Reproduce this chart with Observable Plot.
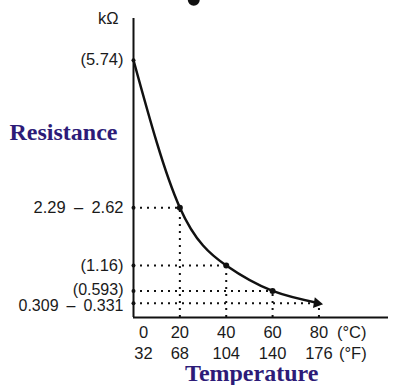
<!DOCTYPE html>
<html>
<head>
<meta charset="utf-8">
<script src="https://cdn.jsdelivr.net/npm/d3@7"></script>
<script src="https://cdn.jsdelivr.net/npm/@observablehq/plot@0.6"></script>
<style>
  html, body { margin: 0; padding: 0; background: #fff; }
  #chart svg { display: block; }
</style>
</head>
<body>
<div id="chart"></div>
<script>
// Data
const tempC = [0, 20, 40, 60, 80];
const tempF = ["32", "68", "104", "140", "176"];
const tempCLabels = ["0", "20", "40", "60", "80"];
const resistance = [5.74, 2.45, 1.16, 0.593, 0.32];
const resistanceLabels = ["(5.74)", "2.29\u2002\u2013\u20022.62", "(1.16)", "(0.593)", "0.309\u2002\u2013\u20020.331"];
const unitY = "kΩ";
const unitC = "(°C)";
const unitF = "(°F)";
const titleY = "Resistance";
const titleX = "Temperature";
// partially visible blob cropped at the top edge of the original picture
const topFragment = [{t: 26, r: 7.09}];

const pts = tempC.map((t, i) => ({t, r: resistance[i], label: resistanceLabels[i], c: tempCLabels[i], f: tempF[i]}));
const guided = pts.slice(1);

const purple = "#2d1b78";
const sans = "Liberation Sans, Arial, sans-serif";
const serif = "Liberation Serif, Times New Roman, serif";
const fs = 16.5;
const ink = "#1a1a1a";

const chart = Plot.plot({
  width: 393,
  height: 385,
  marginLeft: 133,
  marginRight: 5,
  marginTop: 18,
  marginBottom: 68,
  x: {domain: [0, 110], axis: null},
  y: {domain: [0, 6.67], axis: null},
  style: {fontFamily: sans, background: "#fff"},
  marks: [
    // dotted guides
    Plot.ruleY(guided, {y: "r", x1: 0, x2: "t", stroke: "#111", strokeWidth: 2, strokeDasharray: "2 5"}),
    Plot.ruleX(guided, {x: "t", y1: 0, y2: "r", stroke: "#111", strokeWidth: 2, strokeDasharray: "2 5"}),
    // axes
    Plot.ruleX([0], {y1: 0, y2: 6.67, stroke: "#111", strokeWidth: 2}),
    Plot.ruleY([0], {x1: 0, x2: 110, stroke: "#111", strokeWidth: 2}),
    // y tick marks
    Plot.dot(pts, {x: 0, y: "r", r: 2, fill: "#111"}),
    // curve
    Plot.line(pts, {x: "t", y: "r", curve: "natural", stroke: "#111", strokeWidth: 2.5}),
    Plot.dot(pts.slice(1, 4), {x: "t", y: "r", r: 3, fill: "#111"}),
    Plot.dot(pts.slice(4), {x: "t", y: "r", symbol: "triangle", r: 4, rotate: 100, dx: -2, fill: "#111"}),
    Plot.dot(topFragment, {x: "t", y: "r", r: 6, fill: "#111"}),
    // y labels
    Plot.text(pts.slice(0, 3), {x: 0, y: "r", text: "label", textAnchor: "end", dx: -10, fontSize: fs, fill: ink}),
    Plot.text(pts.slice(3, 4), {x: 0, y: "r", text: "label", textAnchor: "end", dx: -10, dy: -1, fontSize: 16, fill: ink}),
    Plot.text(pts.slice(4), {x: 0, y: "r", text: "label", textAnchor: "end", dx: -10, dy: 3, fontSize: 16, fill: ink}),
    Plot.text([unitY], {x: 0, y: 6.67, textAnchor: "end", dx: -15, dy: 0, fontSize: fs, fill: ink}),
    // x labels
    Plot.text(pts.slice(0, 1), {x: "t", y: 0, text: "c", dx: 10, dy: 15, fontSize: fs, fill: ink}),
    Plot.text(pts.slice(1), {x: "t", y: 0, text: "c", dy: 15, fontSize: fs, fill: ink}),
    Plot.text(pts.slice(0, 1), {x: "t", y: 0, text: "f", dx: 10, dy: 36, fontSize: fs, fill: ink}),
    Plot.text(pts.slice(1), {x: "t", y: 0, text: "f", dy: 36, fontSize: fs, fill: ink}),
    Plot.text([unitC], {x: 80, y: 0, textAnchor: "start", dx: 18, dy: 15, fontSize: fs, fill: ink}),
    Plot.text([unitF], {x: 80, y: 0, textAnchor: "start", dx: 20, dy: 36, fontSize: fs, fill: ink}),
    // titles
    Plot.text([titleY], {x: 0, y: 4.13, textAnchor: "start", dx: -124, fontSize: 24, fontWeight: "bold", fontFamily: serif, fill: purple}),
    Plot.text([titleX], {x: 51, y: 0, textAnchor: "middle", dy: 56, fontSize: 24, fontWeight: "bold", fontFamily: serif, fill: purple})
  ]
});
document.getElementById("chart").appendChild(chart);
</script>
</body>
</html>
